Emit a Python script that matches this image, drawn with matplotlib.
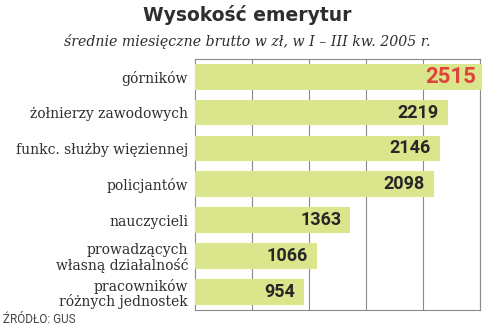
import matplotlib
matplotlib.use("Agg")
import matplotlib.pyplot as plt
import numpy as np

# dane: przeciętne emerytury, I-III kw. 2005
categories = ["górników", "żołnierzy zawodowych", "funkc. służby więziennej",
              "policjantów", "nauczycieli", "prowadzących\nwłasną działalność",
              "pracowników\nróżnych jednostek"]
values = [2515, 2219, 2146, 2098, 1363, 1066, 954]
grid_ticks = [500, 1000, 1500, 2000, 2500]

bar_color = "#dbe58b"
text_color = "#2e2e2e"
line_color = "#8a8a8a"

fig = plt.figure(figsize=(5, 3.28), dpi=100)
ax = fig.add_axes([0.39, 0.055, 0.57, 0.766])

y = np.arange(len(values))
bars = ax.barh(y, values, height=0.72, color=bar_color, zorder=3, clip_on=False)

ax.set_xlim(0, 2500)
ax.set_ylim(len(values) - 0.5, -0.5)
ax.set_xticks(grid_ticks)
ax.xaxis.grid(True, color=line_color, linewidth=0.8)
ax.set_axisbelow(True)
ax.tick_params(axis="x", length=0, labelbottom=False)

ax.set_yticks(y)
ax.set_yticklabels(categories, family="DejaVu Serif", fontsize=10,
                   color=text_color, linespacing=1.05)
ax.tick_params(axis="y", length=0, pad=5)

for s in ax.spines.values():
    s.set_color(line_color)
    s.set_linewidth(0.8)

for i, (rect, v) in enumerate(zip(bars, values)):
    if i == 0:
        ax.text(v - 50, rect.get_y() + rect.get_height() / 2, str(v), ha="right",
                va="center", family="Roboto", weight="bold", fontsize=16,
                color="#e0433b", zorder=4)
    else:
        ax.text(v - 80, rect.get_y() + rect.get_height() / 2, str(v), ha="right",
                va="center", family="Roboto", weight="bold", fontsize=13,
                color="#262626", zorder=4)

fig.text(0.494, 0.954, "Wysokość emerytur", ha="center", va="center",
         family="DejaVu Sans", weight="bold", fontsize=13.5, color=text_color)
fig.text(0.494, 0.872, "średnie miesięczne brutto w zł, w I – III kw. 2005 r.",
         ha="center", va="center", family="DejaVu Serif", style="italic",
         fontsize=10.2, color=text_color)
fig.text(0.006, 0.027, "ŹRÓDŁO: GUS", ha="left", va="center", family="Roboto",
         fontsize=8.5, color="#444444")

fig.savefig("out.png", dpi=100)
